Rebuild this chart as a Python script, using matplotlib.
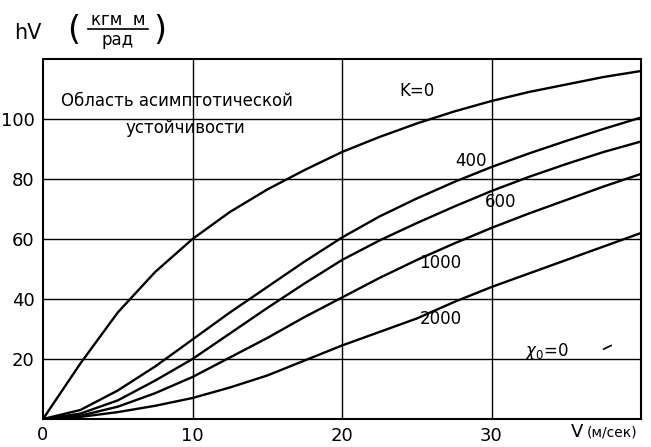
import matplotlib
matplotlib.use("Agg")
import matplotlib.pyplot as plt
from matplotlib.lines import Line2D

plt.rcParams['font.family'] = ['DejaVu Sans']

# Data
v = [0, 2.5, 5, 7.5, 10, 12.5, 15, 17.5, 20, 22.5, 25, 27.5, 30, 32.5, 35, 37.5, 40]
hv_k0 = [0, 18.5, 35.5, 49, 60, 69, 76.5, 83, 89, 94, 98.5, 102.5, 106, 109, 111.5, 114, 116]
hv_k400 = [0, 3, 9.5, 17.5, 26.5, 35.5, 44, 52.5, 60.5, 67.5, 73.5, 79, 84, 88.5, 92.7, 96.7, 100.5]
hv_k600 = [0, 1.8, 6.2, 12.8, 20, 28.5, 37, 45.2, 53, 59.5, 65.3, 70.8, 76, 80.7, 85, 89, 92.5]
hv_k1000 = [0, 1.1, 4.1, 8.6, 14, 20.5, 27, 34, 40.5, 47, 53, 58.5, 63.7, 68.5, 73, 77.5, 81.7]
hv_k2000 = [0, 0.7, 2.3, 4.4, 7, 10.5, 14.5, 19.5, 24.5, 29, 33.5, 39, 44, 48.5, 53, 57.5, 62]
series = [hv_k0, hv_k400, hv_k600, hv_k1000, hv_k2000]
curve_labels = ["K=0", "400", "600", "1000", "2000"]
label_pos = [(25.0, 109.5), (28.6, 86.0), (30.6, 72.5), (26.6, 52), (26.6, 33.5)]
x_ticks = [10, 20, 30]
y_ticks = [20, 40, 60, 80, 100]

fig = plt.figure(figsize=(6.51, 4.47), dpi=100)
ax = fig.add_axes([43/651, 1-419/447, (641-43)/651, (419-59)/447])
ax.set_xlim(0, 40)
ax.set_ylim(0, 120)

for y in y_ticks:
    ax.axhline(y, color='black', lw=1.0, zorder=1)
for x in x_ticks:
    ax.axvline(x, color='black', lw=1.0, zorder=1)

for s in series:
    ax.plot(v, s, color='black', lw=1.7, zorder=3)

fs = 12
for lab, (x, y) in zip(curve_labels, label_pos):
    ax.text(x, y, lab, fontsize=fs, ha='center', va='center')

ax.text(33.7, 22.5, r"$\chi_0$" + "=0", fontsize=fs, ha='center', va='center')
ax.plot([37.5, 38.0], [23.3, 24.5], color='black', lw=1.2)

ax.text(1.2, 106, "Область асимптотической", fontsize=fs, ha='left', va='center')
ax.text(5.5, 97, "устойчивости", fontsize=fs, ha='left', va='center')

for sp in ax.spines.values():
    sp.set_linewidth(1.5)
ax.set_xticks(x_ticks)
ax.set_yticks(y_ticks)
ax.tick_params(length=0, labelsize=13, pad=6)
ax.text(0, -2.5, "0", fontsize=13, ha='center', va='top')
ax.text(35.3, -1.2, "V", fontsize=13, ha='left', va='top')
ax.text(36.4, -2.0, "(м/сек)", fontsize=10, ha='left', va='top')

# y-axis label: hV (кгм м / рад)
fig.text(14/651, 1-33/447, "hV", fontsize=15, ha='left', va='center')
fig.text(74/651, 1-30/447, "(", fontsize=24, ha='center', va='center')
fig.text(160/651, 1-30/447, ")", fontsize=24, ha='center', va='center')
fig.text(118/651, 1-20/447, "кгм  м", fontsize=12, ha='center', va='center')
fig.text(118/651, 1-40/447, "рад", fontsize=12, ha='center', va='center')
fig.add_artist(Line2D([88/651, 148/651], [1-29/447, 1-29/447], color='black', lw=1.2,
                      transform=fig.transFigure))

fig.savefig("out.png", dpi=100, facecolor='white')
